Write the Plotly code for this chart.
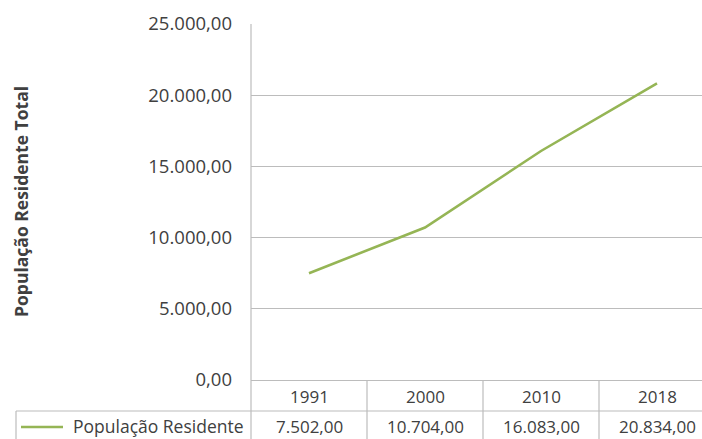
import plotly.graph_objects as go

years = ["1991", "2000", "2010", "2018"]
populacao = [7502.00, 10704.00, 16083.00, 20834.00]
series_name = "População Residente"
y_title = "População Residente Total"
y_ticks = [0, 5000, 10000, 15000, 20000, 25000]

W, H = 702, 439
L, R, T, B = 251, 0, 24, 59
pw = W - L - R
ph = H - T - B

GREEN = "#95b555"
GRID = "#bcbcbc"
TXT = "#404040"
FONT = "Open Sans"

def fmt_br(v):
    s = f"{v:,.2f}"
    return s.replace(",", "X").replace(".", ",").replace("X", ".")

def px_x(p):
    return (p - L) / pw

def px_y(p):
    return (H - B - p) / ph

fig = go.Figure()
fig.add_trace(go.Scatter(
    x=years, y=populacao, mode="lines", name=series_name,
    line=dict(color=GREEN, width=2.6), showlegend=False,
))

shapes = []
row_bot = px_y(439)
row1_top = px_y(380)
row2_top = px_y(411)
shapes.append(dict(type="line", xref="paper", yref="paper", x0=px_x(16), x1=1.0,
                   y0=row2_top, y1=row2_top, line=dict(color=GRID, width=1.2)))
shapes.append(dict(type="line", xref="paper", yref="paper", x0=px_x(16), x1=px_x(16),
                   y0=row_bot, y1=row2_top, line=dict(color=GRID, width=1.2)))
shapes.append(dict(type="line", xref="paper", yref="paper", x0=0, x1=0,
                   y0=row_bot, y1=1.0, line=dict(color=GRID, width=1.2)))
for i in range(len(years) - 1):
    shapes.append(dict(type="line", xref="x", yref="paper", x0=i + 0.5, x1=i + 0.5,
                       y0=row_bot, y1=row1_top, line=dict(color=GRID, width=1.2)))
shapes.append(dict(type="line", xref="paper", yref="paper", x0=px_x(21), x1=px_x(63),
                   y0=px_y(427), y1=px_y(427), line=dict(color=GREEN, width=2.6)))

annotations = []
for i, (yr, v) in enumerate(zip(years, populacao)):
    annotations.append(dict(x=i, y=px_y(396), xref="x", yref="paper", text=yr,
                            showarrow=False, font=dict(family=FONT, size=17, color=TXT),
                            xanchor="center", yanchor="middle"))
    annotations.append(dict(x=i, y=px_y(426), xref="x", yref="paper", text=fmt_br(v),
                            showarrow=False, font=dict(family=FONT, size=17, color=TXT),
                            xanchor="center", yanchor="middle"))
annotations.append(dict(x=px_x(246), y=px_y(426), xref="paper", yref="paper", text=series_name,
                        showarrow=False, font=dict(family=FONT, size=17.5, color=TXT),
                        xanchor="right", yanchor="middle"))
annotations.append(dict(x=px_x(21), y=px_y(202), xref="paper", yref="paper", text=f"<b>{y_title}</b>",
                        textangle=-90, showarrow=False, font=dict(family=FONT, size=17.5, color=TXT),
                        xanchor="center", yanchor="middle"))

fig.update_layout(
    width=W, height=H,
    margin=dict(l=L, r=R, t=T, b=B, autoexpand=False),
    paper_bgcolor="white", plot_bgcolor="white",
    separators=",.",
    shapes=shapes, annotations=annotations,
    font=dict(family=FONT, color=TXT),
)
fig.update_xaxes(
    type="category", range=[-0.5, -0.5 + pw / 116.0],
    showticklabels=False, showgrid=False, zeroline=False, showline=False, fixedrange=True,
)
fig.update_yaxes(
    range=[0, 25000], tickvals=y_ticks, tickformat=",.2f",
    showgrid=True, gridcolor=GRID, gridwidth=1.2,
    zeroline=True, zerolinecolor=GRID, zerolinewidth=1.2,
    showline=False, ticks="", ticklabelstandoff=18,
    tickfont=dict(family=FONT, size=18.5, color=TXT), fixedrange=True,
)

fig.write_html("out.html")
